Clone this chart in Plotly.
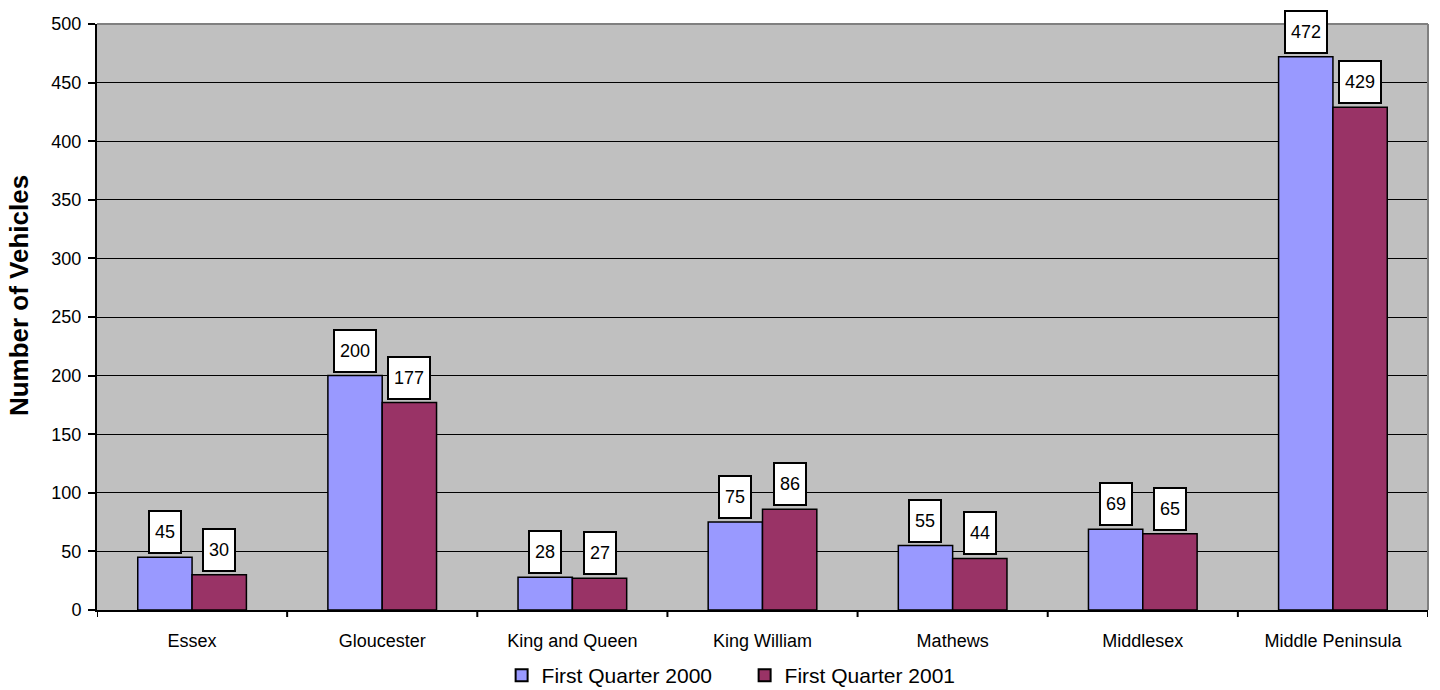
import plotly.graph_objects as go

counties = ["Essex", "Gloucester", "King and Queen", "King William",
            "Mathews", "Middlesex", "Middle Peninsula"]
q1_2000 = [45, 200, 28, 75, 55, 69, 472]
q1_2001 = [30, 177, 27, 86, 44, 65, 429]
series_names = ["First Quarter 2000", "First Quarter 2001"]
y_ticks = [0, 50, 100, 150, 200, 250, 300, 350, 400, 450, 500]

FONT = "Arial, 'Liberation Sans', sans-serif"
BAR_W = 0.2857  # bar width in category units (gap width 150%)
colors = ["#9999FF", "#993366"]

fig = go.Figure()
idx = list(range(len(counties)))
for k, (name, vals) in enumerate(zip(series_names, [q1_2000, q1_2001])):
    fig.add_trace(go.Bar(
        x=idx, y=vals, name=name,
        width=BAR_W, offset=-BAR_W if k == 0 else 0,
        marker=dict(color=colors[k], line=dict(color="black", width=1.5)),
        hoverinfo="y",
    ))

# boxed value labels above each bar
annotations = []
for k, vals in enumerate([q1_2000, q1_2001]):
    shift = -BAR_W / 2 if k == 0 else BAR_W / 2
    for i, v in enumerate(vals):
        txt = str(v)
        annotations.append(dict(
            x=i + shift, y=v, xref="x", yref="y", text=txt,
            showarrow=False, yanchor="bottom", xanchor="center", yshift=3,
            font=dict(family=FONT, size=18, color="black"),
            bgcolor="white", bordercolor="black", borderwidth=2, borderpad=1,
            width=10 * len(txt) + 8, height=38, valign="middle",
        ))

annotations.append(dict(
    text="<b>Number of Vehicles</b>", textangle=-90,
    xref="paper", yref="paper", x=-0.058, y=0.537,
    xanchor="center", yanchor="middle", showarrow=False,
    font=dict(family=FONT, size=26, color="black"),
))

fig.update_layout(
    width=1440, height=690,
    margin=dict(l=97, r=12, t=24, b=80, autoexpand=False),
    paper_bgcolor="white", plot_bgcolor="#C0C0C0",
    barmode="group", bargap=0.4286, bargroupgap=0,
    font=dict(family=FONT, size=18, color="black"),
    showlegend=True,
    legend=dict(orientation="h", x=0.304, xanchor="left", y=-0.112,
                yanchor="middle", font=dict(family=FONT, size=21),
                entrywidth=198, entrywidthmode="pixels",
                itemsizing="constant", traceorder="normal"),
    annotations=annotations,
    shapes=[
        dict(type="line", xref="paper", yref="paper", x0=0, x1=1, y0=1, y1=1,
             line=dict(color="#808080", width=2), layer="above"),
        dict(type="line", xref="paper", yref="paper", x0=1, x1=1, y0=0, y1=1,
             line=dict(color="#808080", width=2), layer="above"),
    ],
)

fig.update_xaxes(
    type="linear", range=[-0.5, len(counties) - 0.5],
    tickmode="array", tickvals=idx, ticktext=counties,
    showgrid=False, zeroline=False,
    showline=True, linecolor="black", linewidth=2,
    ticks="", tickfont=dict(family=FONT, size=18), ticklabelstandoff=13,
)
# tick marks between categories
for b in [i + 0.5 for i in range(-1, len(counties))]:
    fig.add_shape(type="line", xref="x", yref="paper", x0=b, x1=b,
                  y0=0, y1=-0.012, line=dict(color="black", width=2))

fig.update_yaxes(
    range=[0, 500], tickmode="array", tickvals=y_ticks,
    showgrid=True, gridcolor="black", gridwidth=1,
    zeroline=False, showline=True, linecolor="black", linewidth=2,
    ticks="outside", ticklen=7, tickwidth=2, tickcolor="black",
    tickfont=dict(family=FONT, size=18), ticklabelstandoff=3,
)

fig.write_html("out.html")
